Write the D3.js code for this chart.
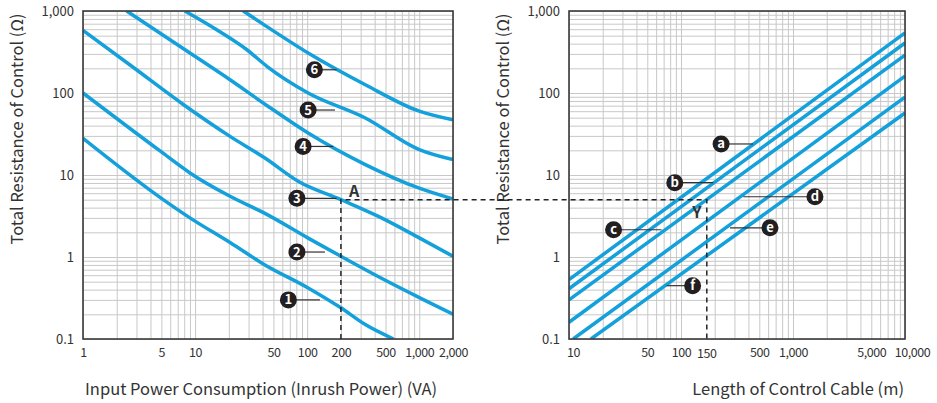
<!DOCTYPE html>
<html>
<head>
<meta charset="utf-8">
<script src="https://cdn.jsdelivr.net/npm/d3@7"></script>
<style>
  body { margin: 0; background: #fff; }
  svg text { font-family: "Noto Sans CJK JP", "Noto Sans", sans-serif; fill: #333; }
</style>
</head>
<body>
<div id="chart"></div>
<script>
// left chart: input power (VA) vs total resistance (ohm)
const curve1 = [[1, 28], [4.9, 5.3], [9, 3.0], [20.5, 1.5], [42, 0.8], [102, 0.42], [200, 0.24], [330, 0.15], [590, 0.1]];
const curve2 = [[1, 100], [4.9, 19.5], [9, 10.6], [20.5, 5.5], [42, 3.4], [102, 1.7], [200, 1.02], [460, 0.55], [1000, 0.32], [2000, 0.2]];
const curve3 = [[1, 580], [2.8, 206], [7.9, 72], [20.5, 29.6], [42, 16.1], [83, 8.4], [200, 5.0], [460, 3.0], [1000, 1.71], [2000, 1.02]];
const curve4 = [[2.45, 1000], [7.3, 371], [20.5, 145], [44, 70], [102, 32.5], [330, 13.4], [1000, 6.9], [2000, 5.1]];
const curve5 = [[8.1, 1000], [15.6, 590], [29, 337], [44, 210], [102, 100], [330, 49.6], [1000, 20.4], [2000, 15.4]];
const curve6 = [[26.9, 1000], [44, 640], [102, 307], [330, 126], [1000, 60], [2000, 47]];

// right chart: cable length (m) vs resistance (ohm), straight lines
const cableA = [[10, 0.53], [10000, 540]];
const cableB = [[10, 0.41], [10000, 407]];
const cableC = [[10, 0.3], [10000, 290]];
const cableD = [[10, 0.16], [10000, 161]];
const cableE = [[10.9, 0.1], [10000, 89]];
const cableF = [[15.7, 0.1], [10000, 57]];

const powerTicks = [1, 5, 10, 50, 100, 200, 500, 1000, 2000];
const cableTicks = [10, 50, 100, 500, 1000, 5000, 10000];
const ohmTicks = [0.1, 1, 10, 100, 1000];

// worked example: 200 VA -> 5 ohm -> cable c
const guideVA = 200, guideOhm = 5, guideLength = 170, guideLengthLabel = "150";

// callout markers: label, circle x, leader end x, y (data units)
const powerMarkers = [
  ["1", 68, 130, 0.30], ["2", 81, 144, 1.15], ["3", 81, 183, 5.2],
  ["4", 92, 171, 22.3], ["5", 102, 177, 62], ["6", 116, 183, 192]
];
const cableMarkers = [
  ["a", 228, 439, 23.9], ["b", 88, 194, 8.05], ["c", 25, 67, 2.15],
  ["d", 1570, 360, 5.43], ["e", 623, 274, 2.27], ["f", 127, 74.5, 0.447]
];

const width = 937, height = 403;
const plotTop = 11, plotBottom = 339;
const blue = "#13a0db";

const svg = d3.select("#chart").append("svg")
  .attr("width", width).attr("height", height);

const y = d3.scaleLog().domain([0.1, 1000]).range([plotBottom, plotTop]);
const xPower = d3.scaleLog().domain([1, 2000]).range([83, 453]);
const xCable = d3.scaleLog().domain([10, 10000]).range([569, 905]);

function gridValues(lo, hi) {
  let out = [];
  for (let p = Math.floor(Math.log10(lo)); p <= Math.ceil(Math.log10(hi)); p++) {
    for (let m = 1; m < 10; m++) {
      const v = m * Math.pow(10, p);
      if (v >= lo * 0.999 && v <= hi * 1.001) out.push(v);
    }
  }
  return out;
}

function drawPanel(x, ticks, id, edgeShift) {
  const g = svg.append("g");
  const [x0, x1] = x.range();
  const [d0, d1] = x.domain();

  g.append("clipPath").attr("id", id).append("rect")
    .attr("x", x0).attr("y", plotTop).attr("width", x1 - x0).attr("height", plotBottom - plotTop);

  // grid
  g.append("g").attr("transform", "translate(0," + plotBottom + ")")
    .call(d3.axisBottom(x).tickValues(gridValues(d0, d1)).tickSize(-(plotBottom - plotTop)).tickFormat(""))
    .call(s => s.select(".domain").remove())
    .selectAll("line").attr("stroke", "#c8c8c8");
  g.append("g").attr("transform", "translate(" + x0 + ",0)")
    .call(d3.axisLeft(y).tickValues(gridValues(0.1, 1000)).tickSize(-(x1 - x0)).tickFormat(""))
    .call(s => s.select(".domain").remove())
    .selectAll("line").attr("stroke", "#c8c8c8");

  // tick labels
  g.append("g").attr("transform", "translate(0," + plotBottom + ")")
    .call(d3.axisBottom(x).tickValues(ticks).tickSize(0).tickPadding(9).tickFormat(d3.format(",")))
    .call(s => s.select(".domain").remove())
    .selectAll("text").attr("font-size", 12.5).attr("letter-spacing", -0.4).attr("fill", "#333")
    .attr("font-family", "Noto Sans CJK JP, Noto Sans, sans-serif")
    .attr("dx", d => edgeShift ? (d === d0 ? 4 : d === d1 ? 7 : 0) : 0);
  g.append("g").attr("transform", "translate(" + x0 + ",0)")
    .call(d3.axisLeft(y).tickValues(ohmTicks).tickSize(0).tickPadding(9).tickFormat(d3.format(",")))
    .call(s => s.select(".domain").remove())
    .selectAll("text").attr("font-size", 13).attr("fill", "#333")
    .attr("font-family", "Noto Sans CJK JP, Noto Sans, sans-serif");

  // y title
  g.append("text")
    .attr("transform", "translate(" + (x0 - 60) + "," + ((plotTop + 247) / 2) + ") rotate(-90)")
    .attr("text-anchor", "middle").attr("font-size", 16.5)
    .text("Total Resistance of Control (\u03a9)");

  return g;
}

const left = drawPanel(xPower, powerTicks, "clipPower", false);
const right = drawPanel(xCable, cableTicks, "clipCable", true);

left.append("text").attr("x", 85).attr("y", 395).attr("font-size", 16.5)
  .text("Input Power Consumption (Inrush Power) (VA)");
right.append("text").attr("x", 904).attr("y", 395).attr("text-anchor", "end").attr("font-size", 16.5)
  .text("Length of Control Cable (m)");

// curves
const powerLine = d3.line().x(d => xPower(d[0])).y(d => y(d[1])).curve(d3.curveMonotoneX);
left.append("g").attr("clip-path", "url(#clipPower)")
  .selectAll("path").data([curve1, curve2, curve3, curve4, curve5, curve6]).enter()
  .append("path").attr("d", powerLine)
  .attr("fill", "none").attr("stroke", blue).attr("stroke-width", 3.5);

const cableLine = d3.line().x(d => xCable(d[0])).y(d => y(d[1]));
right.append("g").attr("clip-path", "url(#clipCable)")
  .selectAll("path").data([cableA, cableB, cableC, cableD, cableE, cableF]).enter()
  .append("path").attr("d", cableLine)
  .attr("fill", "none").attr("stroke", blue).attr("stroke-width", 3.5);

// frames
[xPower, xCable].forEach(x => {
  svg.append("rect").attr("x", x.range()[0]).attr("y", plotTop)
    .attr("width", x.range()[1] - x.range()[0]).attr("height", plotBottom - plotTop)
    .attr("fill", "none").attr("stroke", "#3a3a3a").attr("stroke-width", 1.6);
});

// guide lines
const guide = svg.append("g").attr("fill", "none").attr("stroke", "#222")
  .attr("stroke-width", 1.5).attr("stroke-dasharray", "5,4");
guide.append("path").attr("d",
  "M" + xPower(guideVA) + "," + y(0.1) + "V" + y(guideOhm) +
  "H" + xCable(guideLength) + "V" + y(0.1));

svg.append("text").attr("x", xPower(guideVA) + 8).attr("y", y(guideOhm) - 3)
  .attr("font-size", 16).attr("font-weight", "bold").attr("fill", "#222").text("A");
svg.append("text").attr("x", xCable(guideLength) - 10).attr("y", y(guideOhm) + 18)
  .attr("text-anchor", "middle").attr("font-size", 16).attr("font-weight", "bold").attr("fill", "#222").text("Y");
svg.append("text").attr("x", xCable(guideLength)).attr("y", plotBottom + 9 + 10)
  .attr("text-anchor", "middle").attr("font-size", 12.5).attr("letter-spacing", -0.4).text(guideLengthLabel);

// callouts
function drawMarkers(data, x) {
  const m = svg.append("g").selectAll("g").data(data).enter().append("g");
  m.append("line")
    .attr("x1", d => x(d[1])).attr("x2", d => x(d[2]))
    .attr("y1", d => y(d[3])).attr("y2", d => y(d[3]))
    .attr("stroke", "#333").attr("stroke-width", 1.2);
  m.append("circle").attr("cx", d => x(d[1])).attr("cy", d => y(d[3])).attr("r", 8.5)
    .attr("fill", "#231f20");
  m.append("text").attr("x", d => x(d[1])).attr("y", d => y(d[3]) + 4.5)
    .attr("text-anchor", "middle").attr("font-size", 13).attr("font-weight", "bold")
    .style("fill", "#fff").text(d => d[0]);
}
drawMarkers(powerMarkers, xPower);
drawMarkers(cableMarkers, xCable);
</script>
</body>
</html>
